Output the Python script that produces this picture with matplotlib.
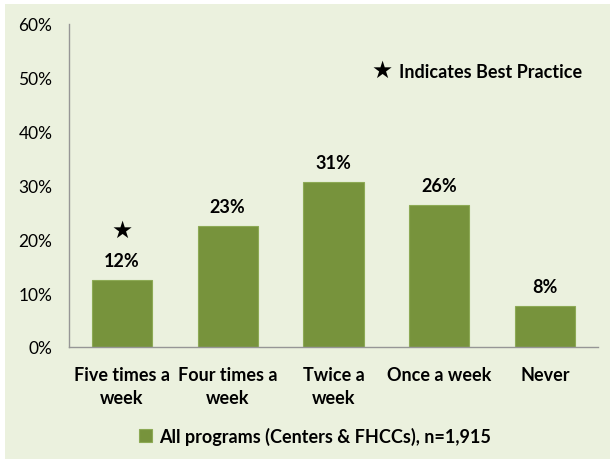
import numpy as np
import matplotlib
matplotlib.use('Agg')
import matplotlib.pyplot as plt
from matplotlib.patches import Rectangle

# Data
categories = ['Five times a\nweek', 'Four times a\nweek', 'Twice a\nweek', 'Once a week', 'Never']
values = [12.4, 22.5, 30.7, 26.4, 7.6]
labels = ['12%', '23%', '31%', '26%', '8%']
best_practice = [True, False, False, False, False]
series_name = 'All programs (Centers & FHCCs), n=1,915'

bar_color = '#77933C'
bg_color = '#EBF1DE'
axis_color = '#969696'

plt.rcParams['font.family'] = ['Lato', 'DejaVu Sans']

fig = plt.figure(figsize=(6.1, 4.6), dpi=100)
fig.patch.set_facecolor('white')
fig.patches.append(Rectangle((5 / 610, 0), 1, 1 - 5 / 460, transform=fig.transFigure,
                             facecolor=bg_color, edgecolor='none', zorder=-10))

ax = fig.add_axes([69 / 610, 1 - 348 / 460, 529 / 610, 323 / 460])
ax.set_facecolor('none')

x = np.arange(len(categories))
ax.bar(x, values, width=0.57, color=bar_color, edgecolor='#8DAA55', linewidth=0.8,
       label=series_name, zorder=2)

for xi, v, lab, star in zip(x, values, labels, best_practice):
    ax.annotate(lab, (xi, v), xytext=(0, 14), textcoords='offset points',
                ha='center', va='center', fontsize=13, fontweight='bold', color='black')
    if star:
        ax.annotate('\u2605', (xi, v), xytext=(0, 36), textcoords='offset points',
                    ha='center', va='center', fontsize=17, color='black',
                    family='DejaVu Sans')

ax.set_xlim(-0.5, len(categories) - 0.5)
ax.set_ylim(0, 60)
ax.set_yticks(np.arange(0, 61, 10))
ax.set_yticklabels(['%d%%' % t for t in range(0, 61, 10)], fontsize=12.5)
ax.set_xticks(x)
ax.set_xticklabels(categories, fontsize=13, fontweight='bold', linespacing=1.38)
ax.tick_params(axis='y', length=0, pad=12)
ax.tick_params(axis='x', length=0, pad=14)

for side in ['top', 'right']:
    ax.spines[side].set_visible(False)
for side in ['left', 'bottom']:
    ax.spines[side].set_color(axis_color)
    ax.spines[side].set_linewidth(1.0)

# "Indicates Best Practice" note
fig.text(382 / 610, 1 - 71 / 460, '\u2605', fontsize=17, ha='center', va='center',
         family='DejaVu Sans')
fig.text(399 / 610, 1 - 72 / 460, 'Indicates Best Practice', fontsize=13,
         fontweight='bold', ha='left', va='center')

leg = fig.legend(loc='center', bbox_to_anchor=(315 / 610, 1 - 437 / 460), frameon=False,
                 handlelength=0.7, handleheight=0.7, handletextpad=0.4,
                 prop={'weight': 'bold', 'size': 13})

fig.savefig('out.png', dpi=100)
